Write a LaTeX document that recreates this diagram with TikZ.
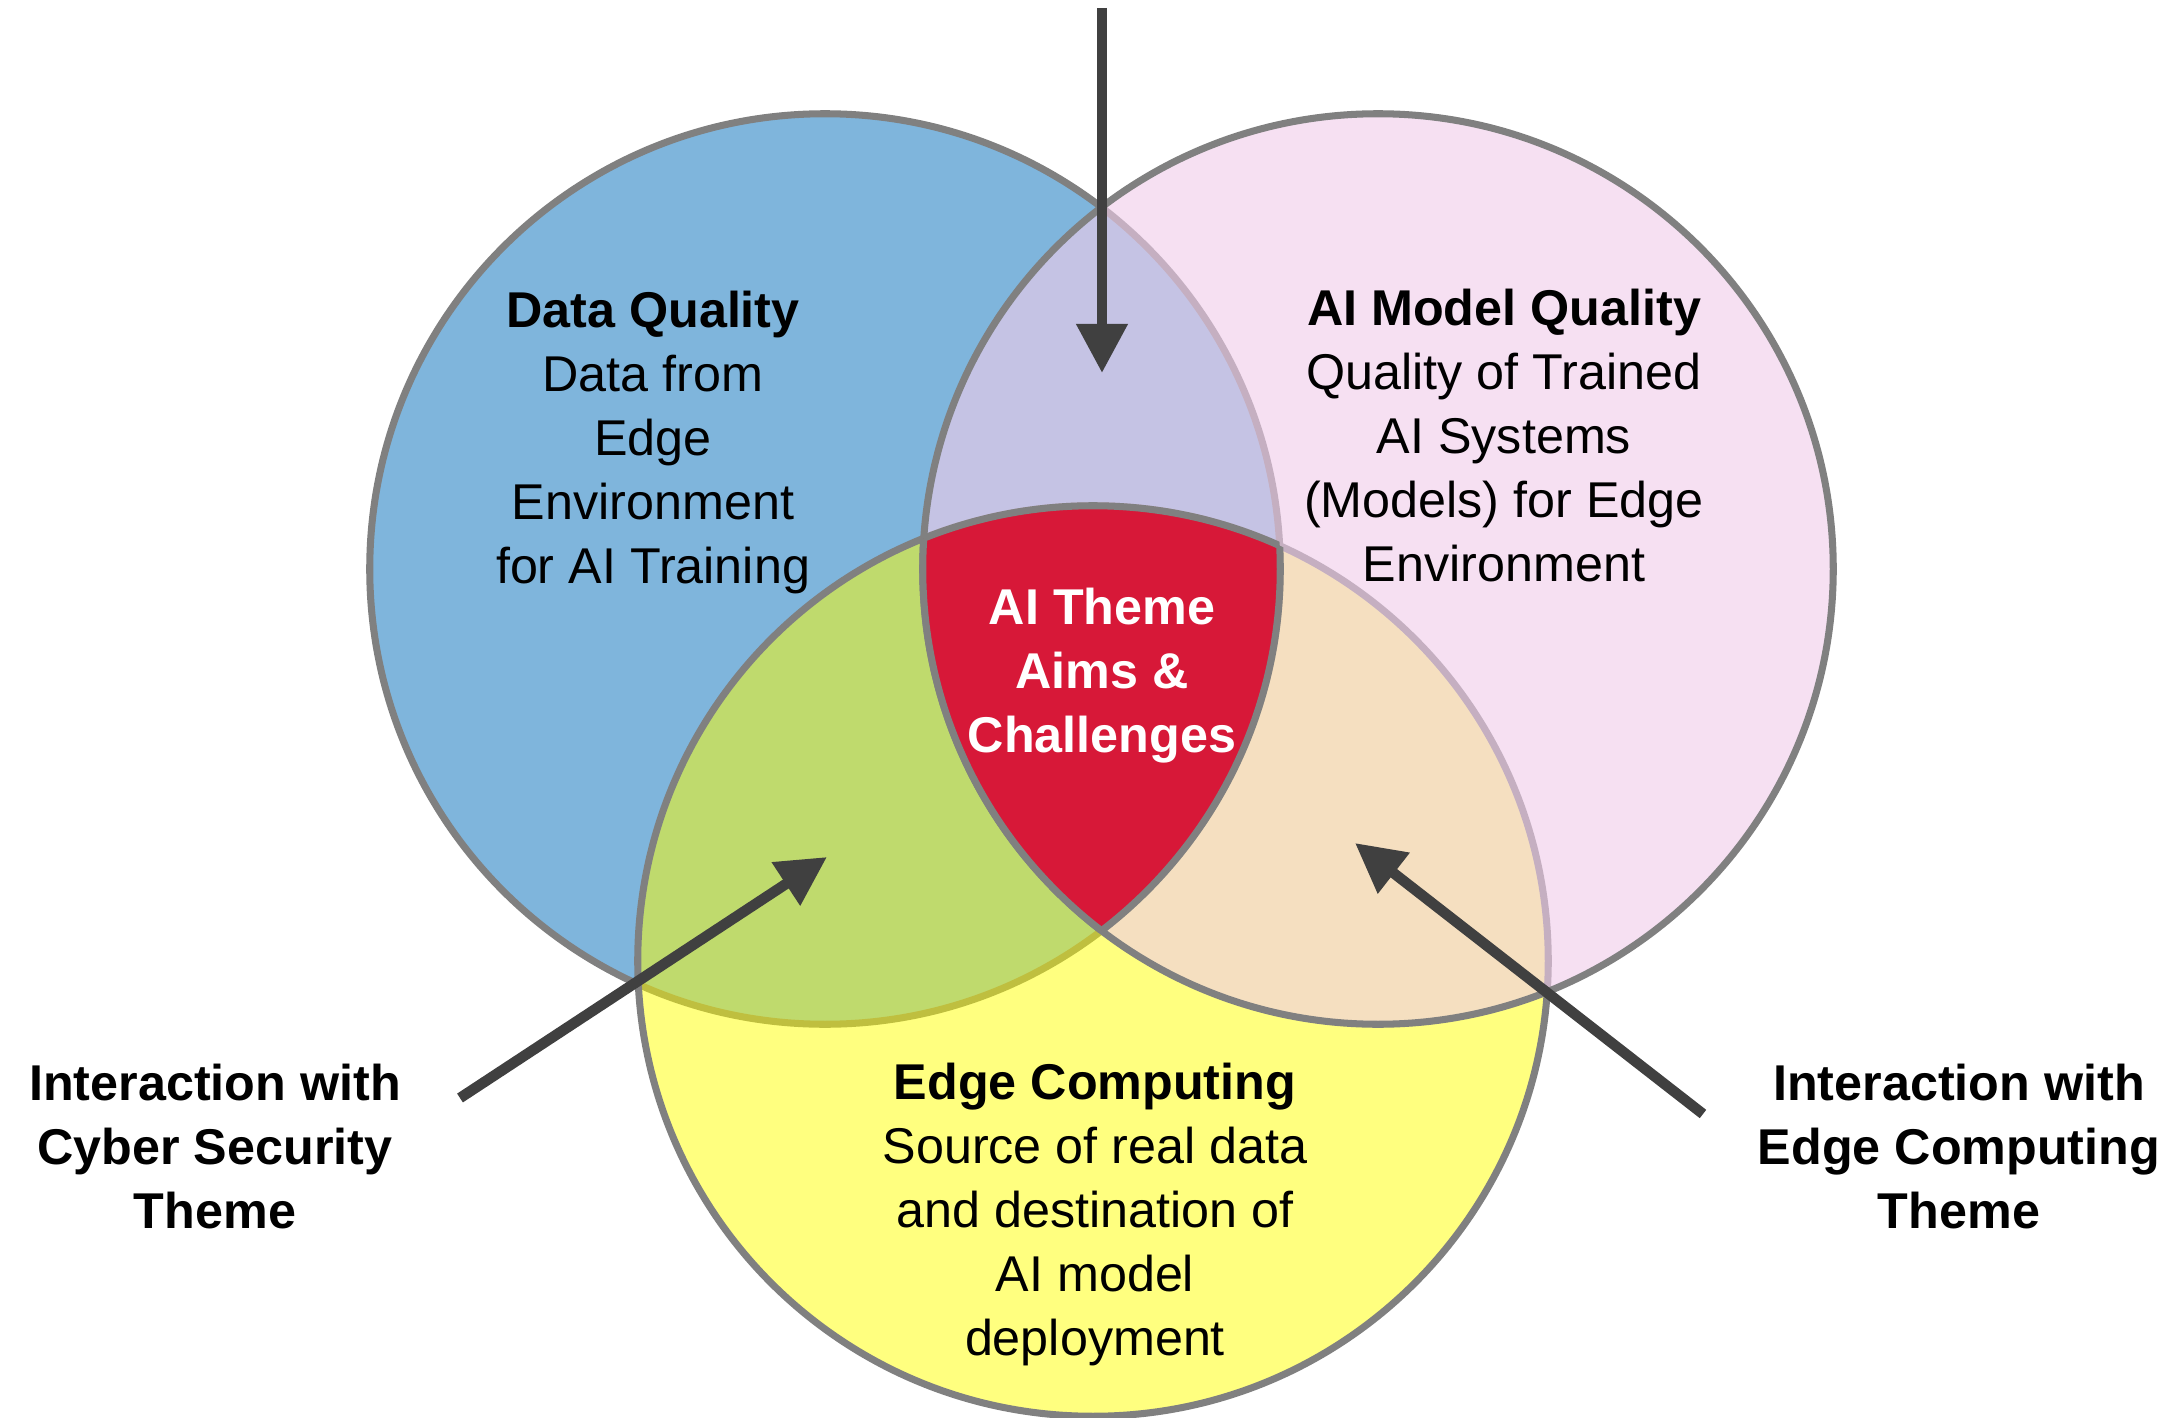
\documentclass[tikz,border=0pt]{standalone}
\usepackage{fontspec}
\setmainfont{Liberation Sans}
\usetikzlibrary{arrows.meta}
\definecolor{cblue}{RGB}{127,181,220}
\definecolor{cpink}{RGB}{240,205,234}
\definecolor{cyellow}{RGB}{255,255,0}
\definecolor{cred}{RGB}{215,24,56}
\definecolor{cline}{RGB}{128,128,128}
\definecolor{carrow}{RGB}{64,64,64}
\begin{document}
\begin{tikzpicture}[x=0.01cm,y=-0.01cm,
  ring/.style={draw=cline, line width=2pt},
  arr/.style={draw=carrow, line width=3pt, -{Triangle[width=14pt,length=14pt]}},
  lbl/.style={align=center, font=\fontsize{14.3}{18.2}\selectfont, text=black, inner sep=0pt},
  blbl/.style={lbl, font=\fontsize{14.3}{18.2}\selectfont\bfseries},
]
\useasboundingbox (0,0) rectangle (2174,1418);
\coordinate (cB) at (825,569);
\coordinate (cP) at (1378,569);
\coordinate (cY) at (1093,961);
\def\R{4.55cm}
% circles
\fill[cblue] (cB) circle[radius=\R];
\draw[ring] (cB) circle[radius=\R];
\fill[cyellow, fill opacity=0.5] (cY) circle[radius=\R];
\draw[ring] (cY) circle[radius=\R];
\fill[cpink, fill opacity=0.62] (cP) circle[radius=\R];
\draw[ring] (cP) circle[radius=\R];
% central region
\begin{scope}
  \clip (cB) circle[radius=\R];
  \clip (cY) circle[radius=\R];
  \fill[cred] (cP) circle[radius=\R];
\end{scope}
\begin{scope}
  \clip (cB) circle[radius=\R];
  \clip (cY) circle[radius=\R];
  \draw[ring] (cP) circle[radius=\R];
\end{scope}
\begin{scope}
  \clip (cB) circle[radius=\R];
  \clip (cP) circle[radius=\R];
  \draw[ring] (cY) circle[radius=\R];
\end{scope}
\begin{scope}
  \clip (cP) circle[radius=\R];
  \clip (cY) circle[radius=\R];
  \draw[ring] (cB) circle[radius=\R];
\end{scope}
% texts
\node[lbl] (dq) at (653,442) {\textbf{Data Quality}\\Data from\\Edge\\Environment\\for AI Training};
\node[lbl] (mq) at (1504,436) {\textbf{AI Model Quality}\\Quality of Trained\\AI Systems\\(Models) for Edge\\Environment};
\node[blbl, text=white] (core) at (1102,676) {AI Theme\\Aims \&\\Challenges};
\node[lbl] (ec) at (1095,1214) {\textbf{Edge Computing}\\Source of real data\\and destination of\\AI model\\deployment};
\node[blbl] (cs) at (215,1147) {Interaction with\\Cyber Security\\Theme};
\node[blbl] (ect) at (1959,1147) {Interaction with\\Edge Computing\\Theme};
% arrows
\coordinate (topS) at (1102,8);
\coordinate (topT) at (1102,373);
\coordinate (csS) at (460,1098);
\coordinate (csT) at (827,857);
\coordinate (ecS) at (1703,1114);
\coordinate (ecT) at (1355,843);
\draw[arr] (topS) -- (topT);
\draw[arr] (csS) -- (csT);
\draw[arr] (ecS) -- (ecT);
\end{tikzpicture}
\end{document}
